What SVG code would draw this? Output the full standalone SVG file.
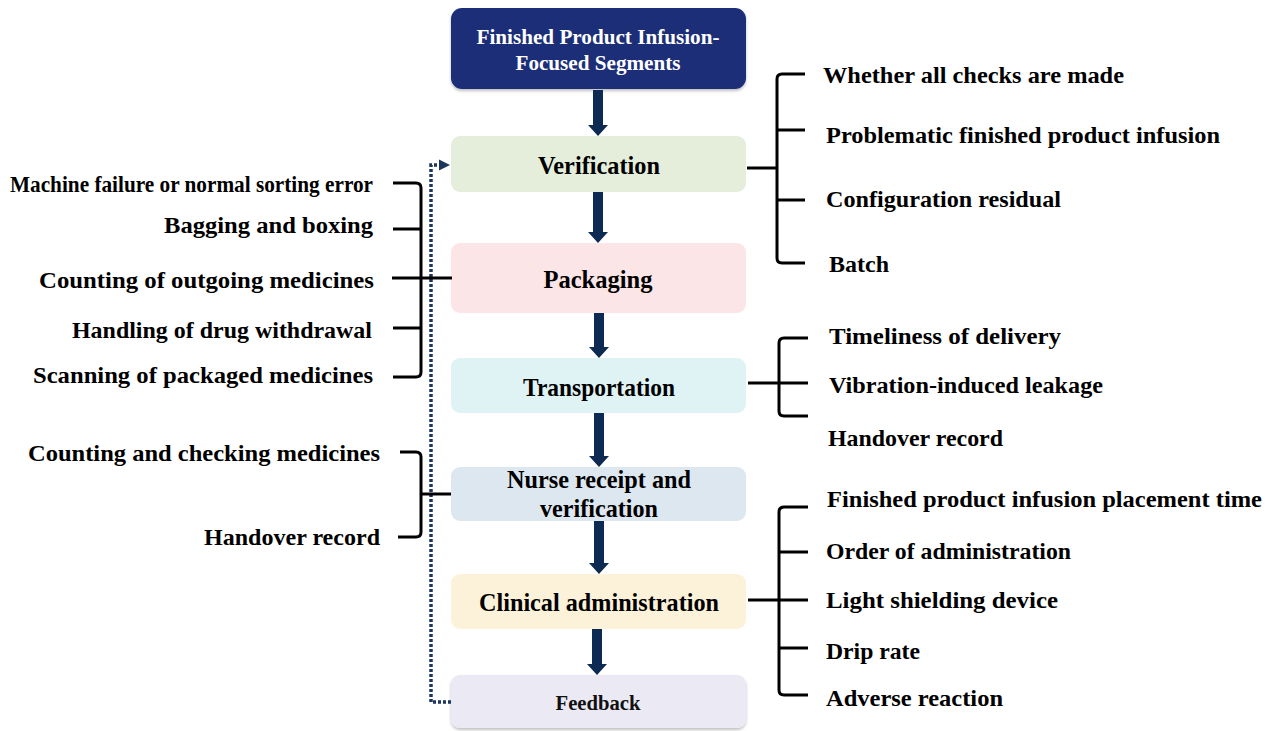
<svg xmlns="http://www.w3.org/2000/svg" width="1272" height="731" viewBox="0 0 1272 731">
  <style>
    .lbl { font-family: "Liberation Serif", "Times New Roman", serif; font-size: 24px; font-weight: bold; fill: #000; }
    .node-t { font-family: "Liberation Serif", "Times New Roman", serif; font-size: 25px; font-weight: bold; fill: #000; text-anchor: middle; }
    .title-t { font-family: "Liberation Serif", "Times New Roman", serif; font-size: 20px; font-weight: bold; fill: #ffffff; text-anchor: middle; }
    .fb-t { font-family: "Liberation Serif", "Times New Roman", serif; font-size: 20px; font-weight: bold; fill: #111; text-anchor: middle; }
    .brace { fill: none; stroke: #000; stroke-width: 3; stroke-linejoin: round; stroke-linecap: butt; }
    .flow { fill: #0d2a52; }
    .loop { fill: none; stroke: #1b355f; stroke-width: 3.5; stroke-dasharray: 3 2; }
  </style>
  <defs>
    <filter id="soft" x="-5%" y="-10%" width="110%" height="130%">
      <feDropShadow dx="0" dy="2" stdDeviation="1.5" flood-color="#000" flood-opacity="0.25"/>
    </filter>
    <marker id="loopHead" markerWidth="12" markerHeight="12" refX="11" refY="6" orient="auto" markerUnits="userSpaceOnUse">
      <path d="M0,0.5 L12,6 L0,11.5 Z" fill="#1b355f"/>
    </marker>
  </defs>

  <!-- main process column -->
  <g id="node-title">
    <rect x="451" y="8" width="295" height="81" rx="11" fill="#1b2d78" filter="url(#soft)"/>
    <text class="title-t" x="598" y="44" textLength="243" lengthAdjust="spacingAndGlyphs">Finished Product Infusion-</text>
    <text class="title-t" x="598" y="70" textLength="165" lengthAdjust="spacingAndGlyphs">Focused Segments</text>
  </g>
  <g id="node-verification">
    <rect x="451" y="136" width="295" height="56" rx="9" fill="#e4eedb"/>
    <text class="node-t" x="599" y="174" textLength="122" lengthAdjust="spacingAndGlyphs">Verification</text>
  </g>
  <g id="node-packaging">
    <rect x="451" y="243" width="295" height="70" rx="9" fill="#fbe5e6"/>
    <text class="node-t" x="598" y="288" textLength="109" lengthAdjust="spacingAndGlyphs">Packaging</text>
  </g>
  <g id="node-transportation">
    <rect x="451" y="358" width="295" height="55" rx="9" fill="#dff2f4"/>
    <text class="node-t" x="599" y="396" textLength="152" lengthAdjust="spacingAndGlyphs">Transportation</text>
  </g>
  <g id="node-nurse">
    <rect x="451" y="467" width="295" height="54" rx="9" fill="#dde7f0"/>
    <text class="node-t" x="599" y="488" textLength="184" lengthAdjust="spacingAndGlyphs">Nurse receipt and</text>
    <text class="node-t" x="599" y="517" textLength="118" lengthAdjust="spacingAndGlyphs">verification</text>
  </g>
  <g id="node-clinical">
    <rect x="451" y="574" width="295" height="55" rx="9" fill="#fcf2d9"/>
    <text class="node-t" x="599" y="611" textLength="240" lengthAdjust="spacingAndGlyphs">Clinical administration</text>
  </g>
  <g id="node-feedback">
    <rect x="451" y="675" width="295" height="53" rx="9" fill="#ebe9f3" filter="url(#soft)"/>
    <text class="fb-t" x="598" y="710" textLength="85" lengthAdjust="spacingAndGlyphs">Feedback</text>
  </g>

  <!-- left-hand factor lists -->
  <g id="list-packaging">
    <text class="lbl" x="373" y="192" text-anchor="end" textLength="363" lengthAdjust="spacingAndGlyphs">Machine failure or normal sorting error</text>
    <text class="lbl" x="373" y="233" text-anchor="end" textLength="209" lengthAdjust="spacingAndGlyphs">Bagging and boxing</text>
    <text class="lbl" x="374" y="288" text-anchor="end" textLength="335" lengthAdjust="spacingAndGlyphs">Counting of outgoing medicines</text>
    <text class="lbl" x="372" y="338" text-anchor="end" textLength="300" lengthAdjust="spacingAndGlyphs">Handling of drug withdrawal</text>
    <text class="lbl" x="373" y="383" text-anchor="end" textLength="340" lengthAdjust="spacingAndGlyphs">Scanning of packaged medicines</text>
  </g>
  <g id="list-nurse">
    <text class="lbl" x="380" y="461" text-anchor="end" textLength="352" lengthAdjust="spacingAndGlyphs">Counting and checking medicines</text>
    <text class="lbl" x="380" y="545" text-anchor="end" textLength="176" lengthAdjust="spacingAndGlyphs">Handover record</text>
  </g>

  <!-- right-hand factor lists -->
  <g id="list-verification">
    <text class="lbl" x="823" y="83" textLength="301" lengthAdjust="spacingAndGlyphs">Whether all checks are made</text>
    <text class="lbl" x="826" y="143" textLength="394" lengthAdjust="spacingAndGlyphs">Problematic finished product infusion</text>
    <text class="lbl" x="826" y="207" textLength="235" lengthAdjust="spacingAndGlyphs">Configuration residual</text>
    <text class="lbl" x="829" y="272" textLength="60" lengthAdjust="spacingAndGlyphs">Batch</text>
  </g>
  <g id="list-transportation">
    <text class="lbl" x="829" y="344" textLength="232" lengthAdjust="spacingAndGlyphs">Timeliness of delivery</text>
    <text class="lbl" x="829" y="393" textLength="274" lengthAdjust="spacingAndGlyphs">Vibration-induced leakage</text>
    <text class="lbl" x="828" y="446" textLength="175" lengthAdjust="spacingAndGlyphs">Handover record</text>
  </g>
  <g id="list-clinical">
    <text class="lbl" x="827" y="507" textLength="435" lengthAdjust="spacingAndGlyphs">Finished product infusion placement time</text>
    <text class="lbl" x="826" y="559" textLength="245" lengthAdjust="spacingAndGlyphs">Order of administration</text>
    <text class="lbl" x="826" y="608" textLength="232" lengthAdjust="spacingAndGlyphs">Light shielding device</text>
    <text class="lbl" x="826" y="659" textLength="94" lengthAdjust="spacingAndGlyphs">Drip rate</text>
    <text class="lbl" x="826" y="706" textLength="177" lengthAdjust="spacingAndGlyphs">Adverse reaction</text>
  </g>

  <g id="connectors">
    <!-- flow arrows down the column -->
    <g class="flow">
      <path d="M593,90 H603 V125 H608 L598,136 L588,125 H593 Z"/>
      <path d="M593,192 H603 V232 H608 L598,243 L588,232 H593 Z"/>
      <path d="M594,313 H604 V347 H609 L599,358 L589,347 H594 Z"/>
      <path d="M594,413 H604 V456 H609 L599,467 L589,456 H594 Z"/>
      <path d="M594,521 H604 V563 H609 L599,574 L589,563 H594 Z"/>
      <path d="M592,629 H602 V664 H607 L597,675 L587,664 H592 Z"/>
    </g>

    <!-- feedback loop back to verification -->
    <path class="loop" d="M451,702 H431 V165 H441"/>
    <path d="M439,159.5 L450,165 L439,170.5 Z" fill="#1b355f"/>

    <!-- brackets -->
    <path class="brace" d="M747,168 H777"/>
    <path class="brace" d="M805,74 H782 Q777,74 777,79 V258 Q777,263 782,263 H805 M777,130 H805 M777,200 H805"/>

    <path class="brace" d="M748,383 H808"/>
    <path class="brace" d="M808,338 H784 Q779,338 779,343 V411 Q779,416 784,416 H808"/>

    <path class="brace" d="M748,600 H808"/>
    <path class="brace" d="M808,507 H784 Q779,507 779,512 V690 Q779,695 784,695 H808 M779,552 H808 M779,648 H808"/>

    <path class="brace" d="M392,278 H452"/>
    <path class="brace" d="M393,183 H416 Q421,183 421,188 V372 Q421,377 416,377 H393 M393,229 H421 M393,328 H421"/>

    <path class="brace" d="M421,494 H451"/>
    <path class="brace" d="M400,452 H416 Q421,452 421,457 V532 Q421,537 416,537 H398"/>
  </g>
</svg>
